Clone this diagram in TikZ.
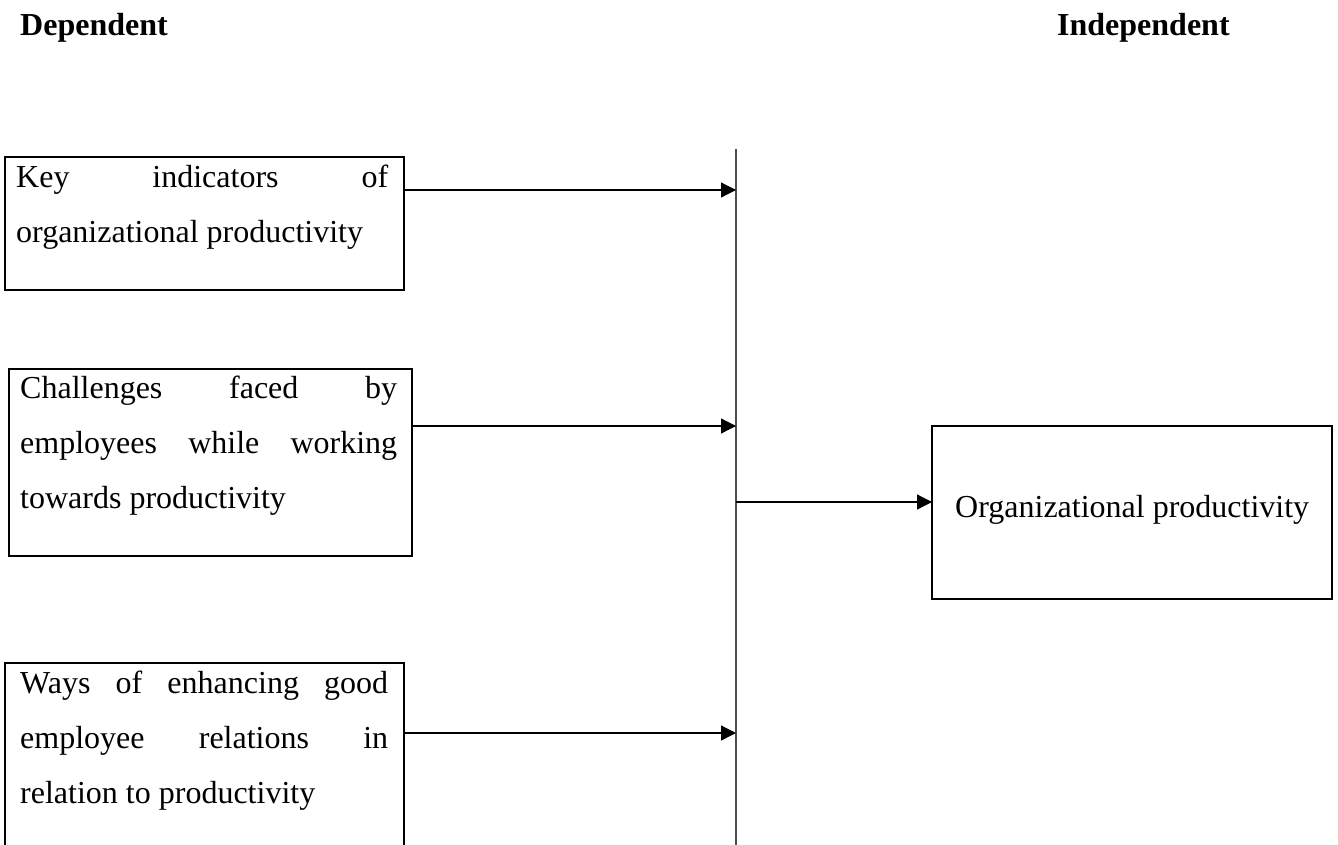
\documentclass[tikz,border=0pt]{standalone}
\usepackage{fontspec}
\setmainfont{Liberation Serif}
\usetikzlibrary{arrows.meta,calc}
\hbadness=10000
\tolerance=10000
\begin{document}
\begin{tikzpicture}[x=1pt,y=-1pt,
  box/.style={draw=black,line width=2.2pt,rectangle,inner sep=0pt,outer sep=0pt,anchor=north west},
  txt/.style={inner sep=0pt,anchor=north west,align=justify,font=\fontsize{32}{55}\selectfont},
  conn/.style={line width=1.2pt,-{Triangle[length=15pt,width=15pt]}},
  vline/.style={line width=1.3pt,draw=black!70},
  head/.style={inner sep=0pt,anchor=base west,font=\fontsize{32}{38}\selectfont\bfseries}]
\clip (0,0) rectangle (1338,844);
\fill[white] (0,0) rectangle (1338,844);
% headings
\node[head] (hd) at (20,35) {Dependent};
\node[head] (hi) at (1057,35) {Independent};
% boxes
\node[box,minimum width=399pt,minimum height=133pt] (b1) at (5,157) {};
\node[box,minimum width=403pt,minimum height=187pt] (b2) at (9,369) {};
\node[box,minimum width=399pt,minimum height=220pt] (b3) at (5,663) {};
\node[box,minimum width=400pt,minimum height=173pt] (b4) at (932,426) {};
% texts
\node[txt,text width=372pt] (t1) at (16,148.5) {\strut Key indicators of\linebreak organizational productivity};
\node[txt,text width=377pt] (t2) at (20,359.5) {\strut Challenges faced by\linebreak employees while working\linebreak towards productivity};
\node[txt,text width=368pt] (t3) at (20,654.5) {\strut Ways of enhancing good\linebreak employee relations in\linebreak relation to productivity};
\node[inner sep=0pt,anchor=north west,font=\fontsize{32}{55}\selectfont] (t4) at (955,478.5) {\strut Organizational productivity};
% vertical line
\coordinate (vt) at (736,149);
\coordinate (vb) at (736,850);
\draw[vline] (vt) -- (vb);
% connectors
\coordinate (s1) at ($(b1.north east)+(0,33)$);
\coordinate (s2) at ($(b2.north east)+(0,57)$);
\coordinate (s3) at ($(b3.north east)+(0,70)$);
\coordinate (e4) at ($(b4.north west)+(0,76)$);
\draw[conn] (s1) -- (s1 -| vt);
\draw[conn] (s2) -- (s2 -| vt);
\draw[conn] (s3) -- (s3 -| vt);
\draw[conn] (e4 -| vt) -- (e4);
\end{tikzpicture}
\end{document}
